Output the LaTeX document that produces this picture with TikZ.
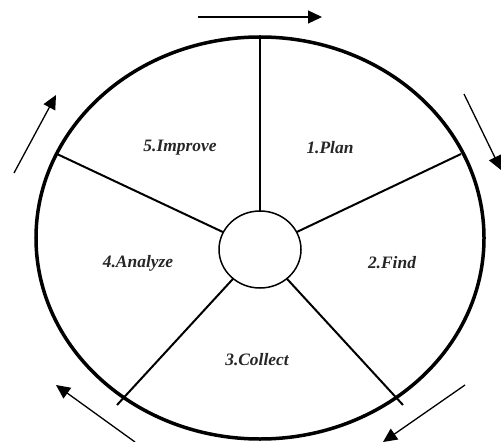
\documentclass[tikz,border=0pt]{standalone}
\usepackage{fontspec}
\setmainfont{Liberation Serif}
\usetikzlibrary{shapes.geometric,arrows.meta}
\tikzset{
  wheelring/.style={draw, ellipse, inner sep=0pt, outer sep=0pt, line width=3.5bp},
  hubring/.style={draw, ellipse, inner sep=0pt, outer sep=0pt, line width=1.5bp},
  spoke/.style={line width=2bp},
  cyclearrow/.style={line width=1.3bp, -{Triangle[length=14bp,width=13bp]}},
  label/.style={font=\fontsize{17.5}{20}\selectfont\bfseries\itshape, inner sep=0pt, text=black!85}
}
\begin{document}
\begin{tikzpicture}[x=1bp,y=-1bp]
\useasboundingbox (0,0) rectangle (502,442);
\node[wheelring, minimum width=448bp, minimum height=402bp] (wheel) at (260,238) {};
\node[hubring, minimum width=82bp, minimum height=77bp] (hub) at (260,249.5) {};
\coordinate (o1) at (260,38);
\coordinate (o2) at (461,154);
\coordinate (o3) at (403,405);
\coordinate (o4) at (117,405);
\coordinate (o5) at (57,154);
\foreach \o in {o1,o2,o3,o4,o5} \draw[spoke] (hub) -- (\o);
\node[label] (plan) at (330,148) {1.Plan};
\node[label] (find) at (392,263) {2.Find};
\node[label] (collect) at (257,360) {3.Collect};
\node[label] (analyze) at (138,263) {4.Analyze};
\node[label] (improve) at (180,148) {5.Improve};
\coordinate (a1s) at (198,17);
\coordinate (a1e) at (322,17);
\coordinate (a2s) at (464,94);
\coordinate (a2e) at (501,170);
\coordinate (a3s) at (465,385);
\coordinate (a3e) at (383,442);
\coordinate (a4s) at (135,442);
\coordinate (a4e) at (56,385);
\coordinate (a5s) at (14,173);
\coordinate (a5e) at (56,95);
\draw[cyclearrow] (a1s) -- (a1e);
\draw[cyclearrow] (a2s) -- (a2e);
\draw[cyclearrow] (a3s) -- (a3e);
\draw[cyclearrow] (a4s) -- (a4e);
\draw[cyclearrow] (a5s) -- (a5e);
\end{tikzpicture}
\end{document}
